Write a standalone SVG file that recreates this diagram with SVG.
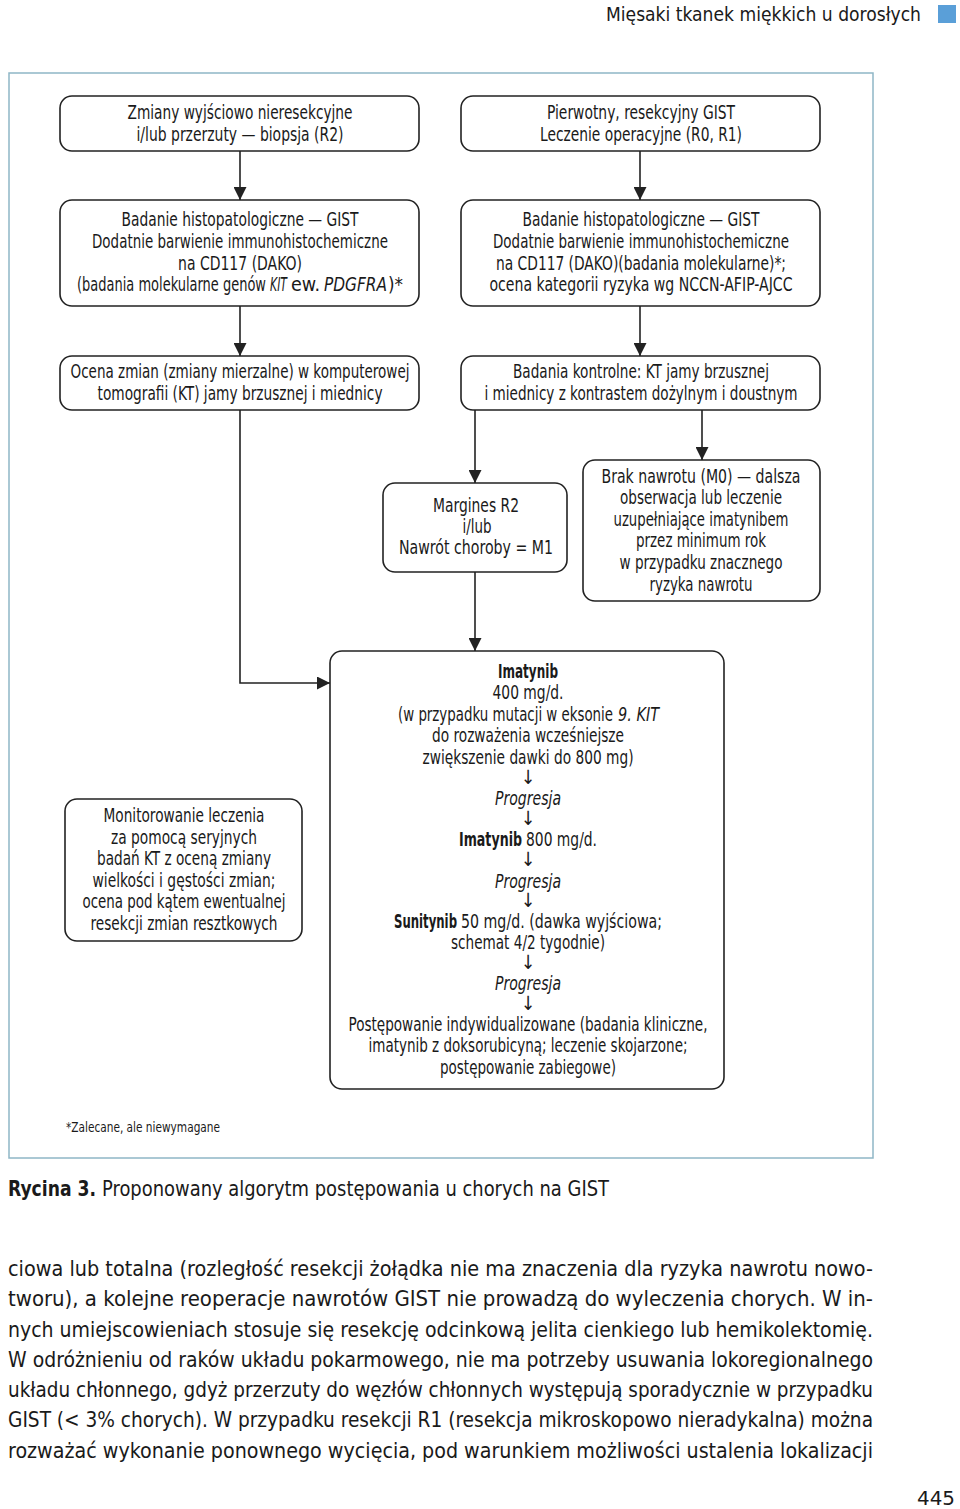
<svg xmlns="http://www.w3.org/2000/svg" width="960" height="1509" viewBox="0 0 960 1509">
<defs>
<marker id="ah" markerUnits="userSpaceOnUse" markerWidth="13" markerHeight="13" refX="13" refY="6.5" orient="auto">
<path d="M0,0 L13,6.5 L0,13 z" fill="#222"/>
</marker>
<style>
.box{fill:#fff;stroke:#222;stroke-width:1.6}
.t{font-family:"Liberation Sans Narrow","DejaVu Sans Condensed","Liberation Sans",sans-serif;font-size:19.5px;fill:#1a1a1a;text-anchor:middle}
.s{text-anchor:start}
.c{fill:none;stroke:#222;stroke-width:1.6}
.b{font-weight:bold}
.i{font-style:italic}
.body{font-family:"Liberation Sans Narrow","DejaVu Sans Condensed","Liberation Sans",sans-serif;font-size:21px;fill:#1a1a1a}
</style>
</defs>
<rect width="960" height="1509" fill="#fff"/>
<text class="body" x="921" y="21" text-anchor="end" textLength="315" lengthAdjust="spacingAndGlyphs" style="font-size:20px">Mięsaki tkanek miękkich u dorosłych</text>
<rect x="938" y="5" width="18" height="18" fill="#5a9fd8"/>
<rect x="9" y="73" width="864" height="1085" fill="none" stroke="#8fb6c6" stroke-width="1.5"/>

<g id="connectors">
<line class="c" x1="240" y1="151" x2="240" y2="200" marker-end="url(#ah)"/>
<line class="c" x1="640" y1="151" x2="640" y2="200" marker-end="url(#ah)"/>
<line class="c" x1="240" y1="306" x2="240" y2="356" marker-end="url(#ah)"/>
<line class="c" x1="640" y1="306" x2="640" y2="356" marker-end="url(#ah)"/>
<line class="c" x1="475" y1="410" x2="475" y2="483" marker-end="url(#ah)"/>
<line class="c" x1="702" y1="410" x2="702" y2="460" marker-end="url(#ah)"/>
<line class="c" x1="475" y1="572" x2="475" y2="651" marker-end="url(#ah)"/>
<polyline class="c" points="240,410 240,683 330,683" marker-end="url(#ah)"/>
</g>

<g id="n1">
<rect class="box" x="60" y="96" width="359" height="55" rx="12"/>
<text class="t" x="240" y="119" textLength="225" lengthAdjust="spacingAndGlyphs">Zmiany wyjściowo nieresekcyjne</text>
<text class="t" x="240" y="141" textLength="207" lengthAdjust="spacingAndGlyphs">i/lub przerzuty — biopsja (R2)</text>
</g>
<g id="n2">
<rect class="box" x="461" y="96" width="359" height="55" rx="12"/>
<text class="t" x="641" y="119" textLength="188" lengthAdjust="spacingAndGlyphs">Pierwotny, resekcyjny GIST</text>
<text class="t" x="641" y="141" textLength="202" lengthAdjust="spacingAndGlyphs">Leczenie operacyjne (R0, R1)</text>
</g>
<g id="n3">
<rect class="box" x="60" y="200" width="359" height="106" rx="12"/>
<text class="t" x="240" y="226" textLength="237" lengthAdjust="spacingAndGlyphs">Badanie histopatologiczne — GIST</text>
<text class="t" x="240" y="248" textLength="296" lengthAdjust="spacingAndGlyphs">Dodatnie barwienie immunohistochemiczne</text>
<text class="t" x="240" y="270" textLength="124" lengthAdjust="spacingAndGlyphs">na CD117 (DAKO)</text>
<text class="t s" x="77" y="291" textLength="189" lengthAdjust="spacingAndGlyphs">(badania molekularne genów</text>
<text class="t s i" x="270" y="291" textLength="17" lengthAdjust="spacingAndGlyphs">KIT</text>
<text class="t s" x="291" y="291" textLength="29" lengthAdjust="spacingAndGlyphs">ew.</text>
<text class="t s i" x="324" y="291" textLength="63" lengthAdjust="spacingAndGlyphs">PDGFRA</text>
<text class="t s" x="388" y="291" textLength="15" lengthAdjust="spacingAndGlyphs">)*</text>
</g>
<g id="n4">
<rect class="box" x="461" y="200" width="359" height="106" rx="12"/>
<text class="t" x="641" y="226" textLength="237" lengthAdjust="spacingAndGlyphs">Badanie histopatologiczne — GIST</text>
<text class="t" x="641" y="248" textLength="296" lengthAdjust="spacingAndGlyphs">Dodatnie barwienie immunohistochemiczne</text>
<text class="t" x="641" y="270" textLength="290" lengthAdjust="spacingAndGlyphs">na CD117 (DAKO)(badania molekularne)*;</text>
<text class="t" x="641" y="291" textLength="303" lengthAdjust="spacingAndGlyphs">ocena kategorii ryzyka wg NCCN-AFIP-AJCC</text>
</g>
<g id="n5">
<rect class="box" x="60" y="356" width="359" height="54" rx="12"/>
<text class="t" x="240" y="378" textLength="339" lengthAdjust="spacingAndGlyphs">Ocena zmian (zmiany mierzalne) w komputerowej</text>
<text class="t" x="240" y="400" textLength="285" lengthAdjust="spacingAndGlyphs">tomografii (KT) jamy brzusznej i miednicy</text>
</g>
<g id="n6">
<rect class="box" x="461" y="356" width="359" height="54" rx="12"/>
<text class="t" x="641" y="378" textLength="256" lengthAdjust="spacingAndGlyphs">Badania kontrolne: KT jamy brzusznej</text>
<text class="t" x="641" y="400" textLength="313" lengthAdjust="spacingAndGlyphs">i miednicy z kontrastem dożylnym i doustnym</text>
</g>
<g id="n7">
<rect class="box" x="383" y="483" width="184" height="89" rx="12"/>
<text class="t" x="476" y="512" textLength="86" lengthAdjust="spacingAndGlyphs">Margines R2</text>
<text class="t" x="477" y="533" textLength="29" lengthAdjust="spacingAndGlyphs">i/lub</text>
<text class="t" x="476" y="554" textLength="154" lengthAdjust="spacingAndGlyphs">Nawrót choroby = M1</text>
</g>
<g id="n8">
<rect class="box" x="583" y="460" width="237" height="141" rx="12"/>
<text class="t" x="701" y="483" textLength="199" lengthAdjust="spacingAndGlyphs">Brak nawrotu (M0) — dalsza</text>
<text class="t" x="701" y="504" textLength="162" lengthAdjust="spacingAndGlyphs">obserwacja lub leczenie</text>
<text class="t" x="701" y="526" textLength="175" lengthAdjust="spacingAndGlyphs">uzupełniające imatynibem</text>
<text class="t" x="701" y="547" textLength="130" lengthAdjust="spacingAndGlyphs">przez minimum rok</text>
<text class="t" x="701" y="569" textLength="163" lengthAdjust="spacingAndGlyphs">w przypadku znacznego</text>
<text class="t" x="701" y="591" textLength="103" lengthAdjust="spacingAndGlyphs">ryzyka nawrotu</text>
</g>
<g id="n9">
<rect class="box" x="330" y="651" width="394" height="438" rx="12"/>
<text class="t b" x="528" y="678" textLength="60" lengthAdjust="spacingAndGlyphs">Imatynib</text>
<text class="t" x="528" y="699" textLength="71" lengthAdjust="spacingAndGlyphs">400 mg/d.</text>
<text class="t s" x="398" y="721" textLength="215" lengthAdjust="spacingAndGlyphs">(w przypadku mutacji w eksonie</text>
<text class="t s i" x="618" y="721" textLength="41" lengthAdjust="spacingAndGlyphs">9. KIT</text>
<text class="t" x="528" y="742" textLength="192" lengthAdjust="spacingAndGlyphs">do rozważenia wcześniejsze</text>
<text class="t" x="528" y="764" textLength="211" lengthAdjust="spacingAndGlyphs">zwiększenie dawki do 800 mg)</text>
<text class="t" x="528" y="784">↓</text>
<text class="t i" x="528" y="805" textLength="66" lengthAdjust="spacingAndGlyphs">Progresja</text>
<text class="t" x="528" y="825">↓</text>
<text class="t s b" x="459" y="846" textLength="63" lengthAdjust="spacingAndGlyphs">Imatynib</text>
<text class="t s" x="526" y="846" textLength="71" lengthAdjust="spacingAndGlyphs">800 mg/d.</text>
<text class="t" x="528" y="866">↓</text>
<text class="t i" x="528" y="888" textLength="66" lengthAdjust="spacingAndGlyphs">Progresja</text>
<text class="t" x="528" y="907">↓</text>
<text class="t s b" x="394" y="928" textLength="63" lengthAdjust="spacingAndGlyphs">Sunitynib</text>
<text class="t s" x="461" y="928" textLength="201" lengthAdjust="spacingAndGlyphs">50 mg/d. (dawka wyjściowa;</text>
<text class="t" x="528" y="949" textLength="154" lengthAdjust="spacingAndGlyphs">schemat 4/2 tygodnie)</text>
<text class="t" x="528" y="969">↓</text>
<text class="t i" x="528" y="990" textLength="66" lengthAdjust="spacingAndGlyphs">Progresja</text>
<text class="t" x="528" y="1010">↓</text>
<text class="t" x="528" y="1031" textLength="359" lengthAdjust="spacingAndGlyphs">Postępowanie indywidualizowane (badania kliniczne,</text>
<text class="t" x="528" y="1052" textLength="319" lengthAdjust="spacingAndGlyphs">imatynib z doksorubicyną; leczenie skojarzone;</text>
<text class="t" x="528" y="1074" textLength="176" lengthAdjust="spacingAndGlyphs">postępowanie zabiegowe)</text>
</g>
<g id="n10">
<rect class="box" x="65" y="799" width="237" height="142" rx="12"/>
<text class="t" x="184" y="822" textLength="161" lengthAdjust="spacingAndGlyphs">Monitorowanie leczenia</text>
<text class="t" x="184" y="844" textLength="146" lengthAdjust="spacingAndGlyphs">za pomocą seryjnych</text>
<text class="t" x="184" y="865" textLength="174" lengthAdjust="spacingAndGlyphs">badań KT z oceną zmiany</text>
<text class="t" x="184" y="887" textLength="183" lengthAdjust="spacingAndGlyphs">wielkości i gęstości zmian;</text>
<text class="t" x="184" y="908" textLength="203" lengthAdjust="spacingAndGlyphs">ocena pod kątem ewentualnej</text>
<text class="t" x="184" y="930" textLength="187" lengthAdjust="spacingAndGlyphs">resekcji zmian resztkowych</text>
</g>

<text class="body" x="66" y="1132" textLength="154" lengthAdjust="spacingAndGlyphs" style="font-size:14px">*Zalecane, ale niewymagane</text>
<text class="body b" x="8" y="1196" textLength="88" lengthAdjust="spacingAndGlyphs">Rycina 3.</text>
<text class="body" x="102" y="1196" textLength="507" lengthAdjust="spacingAndGlyphs">Proponowany algorytm postępowania u chorych na GIST</text>

<g class="body">
<text x="8" y="1276" textLength="865" lengthAdjust="spacingAndGlyphs">ciowa lub totalna (rozległość resekcji żołądka nie ma znaczenia dla ryzyka nawrotu nowo-</text>
<text x="8" y="1306" textLength="865" lengthAdjust="spacingAndGlyphs">tworu), a kolejne reoperacje nawrotów GIST nie prowadzą do wyleczenia chorych. W in-</text>
<text x="8" y="1337" textLength="865" lengthAdjust="spacingAndGlyphs">nych umiejscowieniach stosuje się resekcję odcinkową jelita cienkiego lub hemikolektomię.</text>
<text x="8" y="1367" textLength="865" lengthAdjust="spacingAndGlyphs">W odróżnieniu od raków układu pokarmowego, nie ma potrzeby usuwania lokoregionalnego</text>
<text x="8" y="1397" textLength="865" lengthAdjust="spacingAndGlyphs">układu chłonnego, gdyż przerzuty do węzłów chłonnych występują sporadycznie w przypadku</text>
<text x="8" y="1427" textLength="865" lengthAdjust="spacingAndGlyphs">GIST (&lt; 3% chorych). W przypadku resekcji R1 (resekcja mikroskopowo nieradykalna) można</text>
<text x="8" y="1458" textLength="865" lengthAdjust="spacingAndGlyphs">rozważać wykonanie ponownego wycięcia, pod warunkiem możliwości ustalenia lokalizacji</text>
</g>
<text class="body" x="955" y="1505" text-anchor="end" textLength="38" lengthAdjust="spacingAndGlyphs" style="font-size:20px">445</text>
</svg>
